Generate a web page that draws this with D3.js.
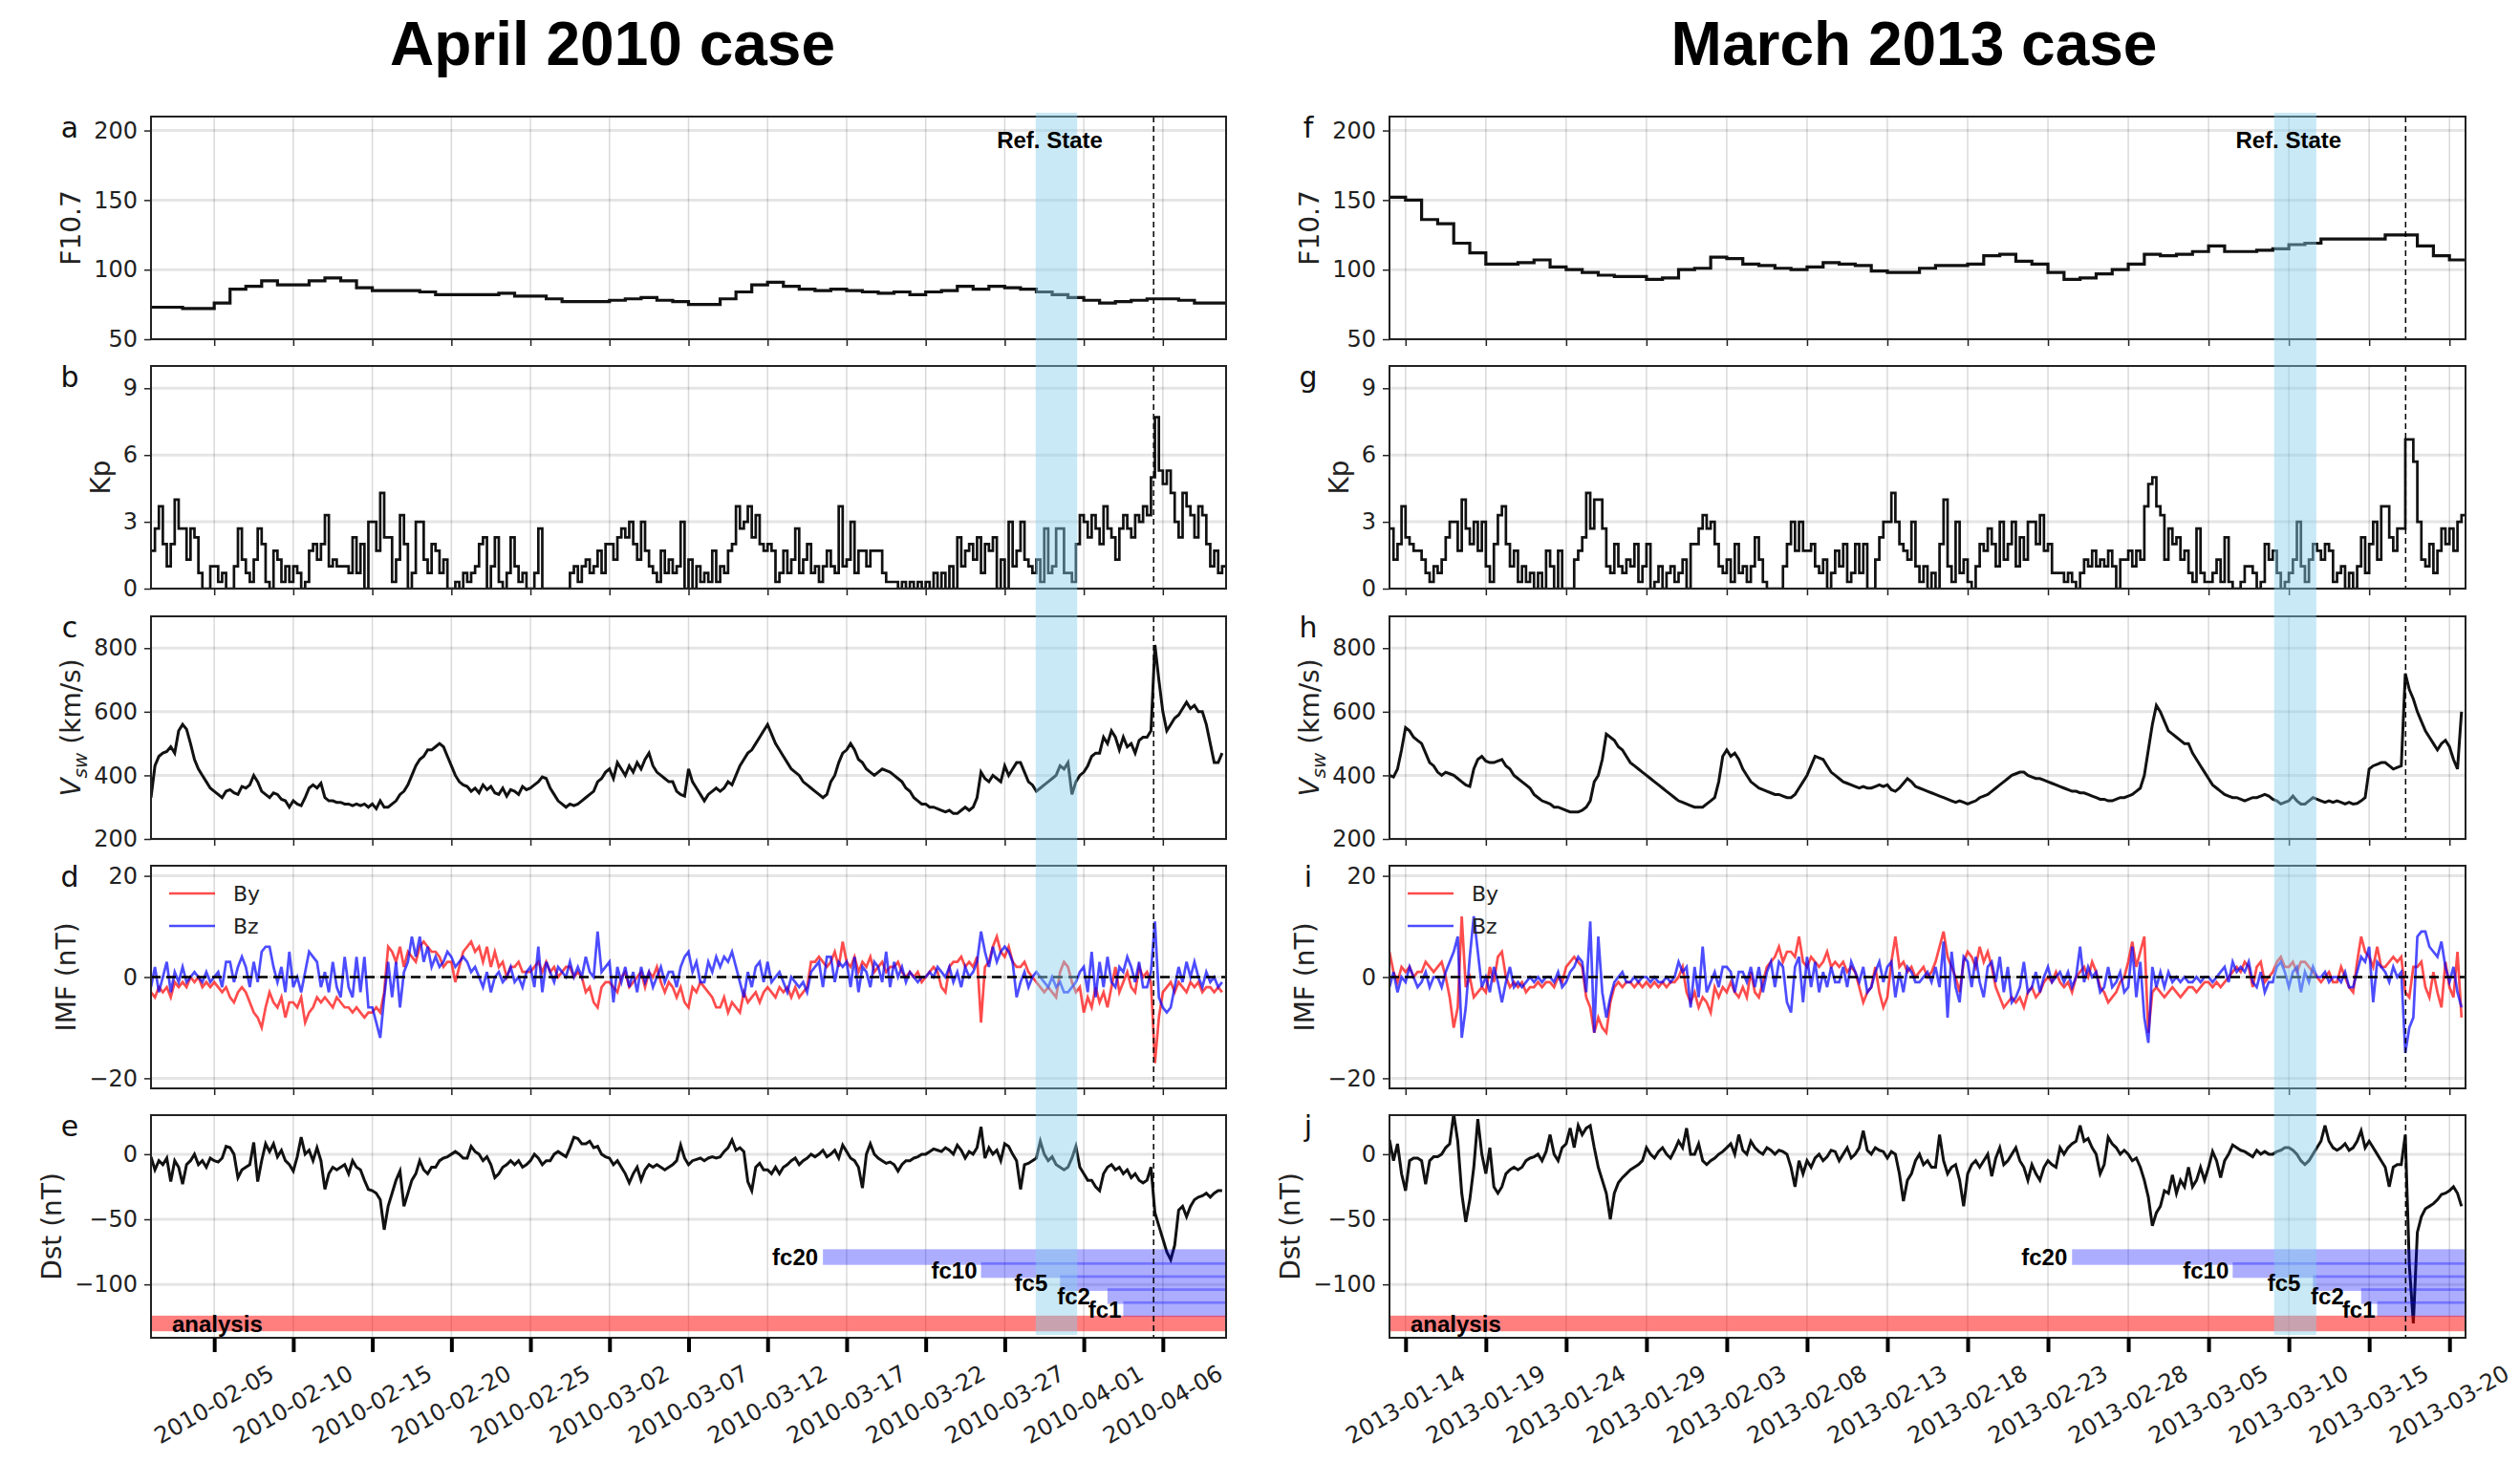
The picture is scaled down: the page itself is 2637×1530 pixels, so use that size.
<!DOCTYPE html>
<html>
<head>
<meta charset="utf-8">
<title>April 2010 / March 2013 cases</title>
<script src="https://cdn.jsdelivr.net/npm/d3@7/dist/d3.min.js"></script>
<style>
  body { margin: 0; background: #fff; }
  svg text { font-family: "DejaVu Sans", sans-serif; }
  svg text.bold { font-family: "Liberation Sans", Arial, sans-serif; font-weight: bold; }
</style>
</head>
<body>
<div id="fig"></div>
<script>
// ---- April 2010 case: daily F10.7, then 6-hourly Kp, Vsw, By, Bz, Dst from 2010-02-01 ----
var aprF107 = [73,73,72,72,76,86,88,92,89,89, 92,94,92,87,85,85,85,84,82,82, 82,82,83,81,81,79,77,77,77,78,
  79,80,78,77,75,75,79,84,89,91, 88,86,85,86,85,84,83,84,82,84, 85,88,86,88,87,86,84,82,80,78, 76,77,78,79,79,78,76,76];

var aprKp = [
  1.7,2.7,3.7,2.0, 1.0,2.0,4.0,2.7, 2.7,1.3,2.7,2.3, 0.7,0,0,1.0, 1.0,0.3,0.7,0, 0,1.0,2.7,1.3, 0.7,0.3,1.3,2.7, 2.0,0.3,0,1.7, 1.3,0.3,1.0,0.3, 1.0,0.7,0,0.3,
  1.7,2.0,1.3,2.0, 3.3,1.0,1.3,1.0, 1.0,1.0,0.7,2.3, 0.7,2.0,0,3.0, 3.0,1.7,4.3,2.3, 2.3,0.3,1.3,3.3, 2.0,0,0.7,3.0, 3.0,1.3,0.7,2.0, 1.7,0.7,1.3,0, 0,0.3,0,0.7,
  0.3,0.7,1.0,2.0, 2.3,0,1.0,2.3, 0.3,0,0.7,2.3, 1.0,0.3,0.7,0, 0,0.7,2.7,0, 0,0,0,0, 0,0,0.7,1.0, 0.3,1.0,1.3,0.7, 1.0,1.7,0.7,2.0, 2.0,1.3,2.3,2.7,
  2.3,3.0,2.0,1.3, 3.0,1.7,1.0,0.7, 0.3,1.7,0.7,1.3, 0.7,1.0,3.0,0, 1.3,0,1.0,0.3, 0.7,0.3,1.7,0.3, 1.0,0.7,1.7,2.0, 3.7,2.7,3.0,3.7, 2.3,3.3,2.0,1.7, 2.0,1.7,0.3,0.7,
  1.7,0.7,1.3,2.7, 0.7,1.3,2.0,0.7, 1.0,0.3,1.0,1.7, 1.0,0.7,3.7,1.0, 1.3,3.0,0.7,1.7, 1.7,1.0,1.7,1.7, 1.7,0.7,0.3,0.3, 0.3,0,0.3,0, 0.3,0,0.3,0, 0.3,0,0.7,0,
  0.7,0,1.0,0, 2.3,1.0,1.7,2.0, 1.3,2.3,0.7,2.0, 1.7,2.3,0,1.3, 0,3.0,1.0,1.7, 3.0,1.3,1.0,0.7, 1.3,0.3,2.7,0.7, 1.0,2.7,2.7,0.7, 0.7,0.3,2.0,3.3, 3.0,2.3,3.3,2.7,
  2.0,3.7,2.7,2.3, 1.3,2.7,3.3,2.7, 2.3,3.3,3.0,3.7, 3.3,5.0,7.7,5.3, 4.7,5.3,4.3,3.0, 2.3,4.3,3.7,3.3, 2.3,3.7,3.3,2.0, 1.0,1.7,0.7,1.0];

var aprVsw = [
  330,430,460,470, 475,490,470,540, 560,545,500,450, 420,400,380,360, 350,340,330,350, 355,345,340,365, 360,370,400,380, 350,340,330,345, 340,325,320,300, 320,310,305,330,
  360,370,360,375, 330,320,320,315, 315,310,310,305, 310,305,310,300, 310,295,320,300, 300,310,320,340, 350,370,400,430, 450,460,480,480, 490,500,490,460, 430,400,380,370,
  365,350,360,345, 370,355,365,345, 340,360,335,355, 350,340,365,355, 360,370,380,395, 390,360,340,320, 310,300,310,305, 310,320,330,340, 350,380,390,410, 420,390,440,420,
  400,430,410,440, 420,450,470,430, 410,400,390,380, 380,350,340,335, 420,380,360,340, 320,340,350,360, 350,360,380,370, 400,430,450,470, 480,500,520,540, 560,530,500,480,
  460,440,420,410, 400,380,370,360, 350,340,330,340, 380,400,440,470, 480,500,480,450, 440,420,410,400, 410,420,415,410, 400,390,380,360, 350,330,320,310, 310,300,300,295,
  290,285,290,280, 280,290,300,290, 300,330,410,390, 380,400,390,380, 430,400,420,440, 440,410,380,370, 350,360,370,380, 390,400,430,420, 440,340,380,400, 410,430,460,470,
  470,520,500,540, 520,480,520,490, 500,470,510,520, 520,540,810,700, 600,540,560,580, 590,610,630,610, 620,600,600,560, 500,440,440,470];

var aprBy = [
  -3,-4,-2,-3, -2,-4,-1,-2, -1,-2,0,-1, 0,-2,-1,-2, -1,-2,-3,-2, -4,-5,-3,-2, -3,-5,-7,-8, -10,-6,-3,-5, -6,-4,-8,-5, -5,-6,-4,-9,
  -7,-6,-4,-5, -4,-5,-6,-4, -5,-6,-6,-7, -6,-7,-8,-7, -7,-6,-7,-3, 6,5,3,6, 2,5,4,3, 6,7,6,5, 5,4,2,3, 3,-1,2,5,
  6,7,5,6, 3,6,2,5, 2,3,0,2, 2,3,1,1, 1,2,3,1, 3,1,2,0, 1,2,2,0, 1,0,-3,-2, -5,-6,-2,-1, -1,-2,-3,0,
  1,-2,-1,0, 1,-2,1,0, 2,-1,-3,-1, -2,-4,-2,-5, -6,-2,-3,-1, -2,-3,-4,-6, -6,-4,-7,-5, -6,-7,-3,-5, -4,-3,-5,-3, -2,-3,-4,-2,
  -3,-2,-4,-2, -4,-3,-2,3, 3,4,3,2, 3,5,2,7, 3,2,4,1, 3,2,4,1, 2,3,1,2, 2,3,1,0, 1,0,1,-1, 0,1,2,1,
  -2,-3,2,3, 3,4,2,3, 2,4,-9,2, 3,6,8,5, 4,6,3,2, 2,3,1,0, -1,-2,-3,-2, -3,-4,1,3, 2,-1,-3,-2, -7,-4,-6,-2,
  -5,-3,-6,-2, 2,-3,-1,1, -2,-3,2,0, 1,-1,-17,-8, -3,-2,-1,-3, -1,-2,-3,-1, -2,-1,-3,-2, -2,-3,-2,-3];

var aprBz = [
  -2,2,-3,0, 3,-3,1,-1, 2,-1,0,1, 0,-1,1,-1, 0,1,-2,3, 3,-1,2,4, 2,-2,3,-1, 5,6,6,2, -1,2,-3,5, -2,0,-3,1,
  5,4,3,-2, 1,-3,3,-2, -4,4,-2,-4, 4,-3,4,-6, -6,-9,-12,-4, 3,-4,3,-6, 1,3,8,4, 8,3,6,2, 4,2,3,5, 4,2,3,4,
  3,1,2,0, -2,1,-3,0, 1,-1,0,2, -1,0,-2,1, 2,-2,6,-3, 3,1,-1,2, 1,0,3,0, 2,0,4,1, 0,9,1,2, 3,-5,2,-1,
  2,-2,1,-3, 2,-1,1,-2, 0,2,-1,1, 1,-2,2,4, 5,1,3,-1, -1,3,1,4, 2,4,3,5, 2,-1,-4,1, -2,2,3,-1, 3,-1,0,1,
  -1,-3,0,-1, -2,-1,-3,1, 2,3,-2,4, 4,-1,3,2, 3,-2,4,-3, 2,1,-2,3, 2,-1,5,-2, 3,0,2,-1, 1,0,-1,0, 0,1,0,2,
  1,0,2,-1, 1,-2,2,0, 1,3,9,5, 2,6,3,5, 6,5,3,-4, -1,1,-2,0, 1,0,-1,-2, 0,-2,-1,-3, -3,-2,-1,1, 2,-3,5,-4,
  3,-2,4,-1, -2,2,1,4, 2,-1,3,-2, -2,1,11,-4, -6,-7,-6,-2, 2,-1,3,0, 3,0,-2,1, -1,0,-2,-1];

var aprDst = [
  -2,-12,-5,-8, -3,-21,-5,-10, -23,-8,-5,0, -8,-5,-10,-3, -5,-6,-3,6, 5,0,-18,-12, -10,-8,9,-21, -5,8,2,8, -2,3,-5,-8, -13,-2,13,0,
  3,-5,5,-5, -27,-15,-10,-12, -10,-8,-15,-5, -10,-12,-20,-27, -28,-30,-35,-58, -40,-30,-20,-13, -40,-30,-20,-15, -5,-12,-15,-10, -10,-5,-3,-2, 0,2,0,-3,
  -3,6,2,0, -5,-2,-8,-18, -15,-10,-8,-5, -8,-5,-10,-8, -5,0,-3,-8, -5,-5,0,2, 0,-2,5,13, 12,8,8,10, 5,6,0,-2, -3,-8,-5,-10,
  -15,-22,-15,-10, -20,-12,-8,-10, -8,-10,-12,-10, -8,-5,7,-3, -8,-5,-4,-3, -5,-3,-2,-3, -2,2,5,11, 3,5,2,-21, -28,-10,-7,-12, -12,-15,-10,-15,
  -10,-8,-5,-3, -8,-5,-3,0, -2,0,3,-2, 0,3,-3,7, 2,-3,-5,-10, -26,0,8,0, -3,-5,-7,-6, -8,-13,-8,-5, -5,-3,-2,0, 0,2,4,3,
  2,5,3,0, 7,3,-3,2, 0,5,21,-3, 5,0,3,-5, 8,6,0,-5, -27,-8,-7,-5, -3,10,0,-5, -2,-8,-10,-12, -10,-3,6,-10, -15,-20,-20,-25,
  -28,-15,-10,-8, -12,-10,-15,-12, -18,-15,-20,-22, -20,-10,-45,-55, -65,-75,-81,-70, -43,-40,-48,-40, -35,-33,-32,-30, -33,-30,-28,-28];

// ---- March 2013 case: same layout, from 2013-01-13 ----
var marF107 = [152,150,136,133,119,112,104,104,105,107, 102,100,98,96,95,95,93,94,100,101, 109,108,104,103,101,100,102,105,104,103,
  99,98,98,101,103,103,104,110,111,106, 104,98,93,94,97,100,104,111,110,111, 113,117,113,113,114,115,118,119,122,122, 122,122,125,125,117,110,107];

var marKp = [
  2.7,1.3,2.0,3.7, 2.3,2.0,1.7,1.7, 1.3,0.7,0.3,1.0, 0.7,1.3,2.3,3.0, 3.0,1.7,4.0,2.7, 2.0,3.0,1.7,3.0, 1.0,0.3,2.0,3.3, 3.7,2.0,1.0,1.7, 0.3,1.0,0.3,0.7, 0,0.7,0,1.7,
  1.0,0,1.7,0, 0,0,1.3,1.7, 2.3,4.3,2.7,4.0, 4.0,2.7,1.0,0.7, 2.0,1.0,0.7,1.3, 1.0,2.0,0.3,1.0, 2.0,0,0.3,1.0, 0,0.7,1.0,0.3, 0.7,1.3,0,2.0, 2.0,2.7,3.3,2.7,
  3.0,2.0,1.0,0.7, 1.3,0.3,2.0,0.7, 1.0,0.3,1.0,2.3, 1.3,0.3,0,0, 0,0,1.0,2.0, 3.0,1.7,3.0,1.7, 1.7,2.0,1.0,0.7, 1.3,0,0.7,1.7, 1.0,2.0,0.3,0.7, 2.0,0.7,2.0,0,
  0,1.3,2.3,3.0, 3.0,4.3,3.0,2.0, 1.7,1.3,3.0,1.0, 0.3,1.0,0,0.7, 0,2.0,4.0,1.0, 0.3,3.0,0.7,1.3, 0.3,0,1.0,2.0, 1.7,2.7,2.0,1.0, 3.0,1.3,2.0,3.0, 1.0,2.3,1.3,3.0,
  3.0,2.0,3.3,1.7, 2.0,0.7,0.7,0.7, 0.3,0.7,0.3,0, 0.7,1.3,1.0,1.7, 1.0,1.3,1.0,1.7, 1.0,0,1.3,1.3, 1.7,1.0,1.7,1.3, 3.7,4.7,5.0,3.7, 3.3,1.3,2.7,2.0, 2.3,1.3,1.7,0.7,
  0.3,2.7,0.7,0.3, 0.3,0.7,1.3,0.3, 2.3,0.3,0,0, 0.3,1.0,1.0,0.7, 0,0.3,2.0,1.3, 1.7,0.7,0,0.3, 0.7,1.3,3.0,1.0, 0.3,1.3,2.0,1.7, 1.3,2.0,1.7,0.3, 0.7,1.0,0,0.7,
  0,1.0,2.3,0.7, 2.0,3.0,1.3,3.7, 3.7,2.3,1.7,2.7, 2.7,6.7,6.7,5.7, 3.0,1.3,1.0,2.0, 0.7,1.7,2.7,2.0, 2.7,1.7,3.0,3.3];

var marVsw = [
  400,395,420,480, 550,540,520,510, 500,470,440,430, 410,400,410,405, 400,390,380,370, 365,420,450,460, 445,440,440,445, 450,430,420,400, 390,380,370,360, 340,330,320,315,
  310,300,300,295, 290,285,285,285, 290,300,320,380, 400,450,530,520, 510,490,480,460, 440,430,420,410, 400,390,380,370, 360,350,340,330, 320,315,310,305, 300,300,300,310,
  320,330,380,460, 480,460,470,450, 420,400,380,370, 360,355,350,345, 340,340,335,330, 330,340,360,380, 400,430,460,455, 450,430,410,400, 390,380,375,370, 365,360,365,360,
  360,365,370,365, 370,355,350,360, 375,390,380,365, 360,355,350,345, 340,335,330,325, 320,315,320,315, 310,315,320,330, 335,340,350,360, 370,380,390,400, 405,410,410,400,
  395,390,390,385, 380,375,370,365, 360,355,350,350, 345,345,340,335, 330,325,325,320, 320,325,330,330, 335,340,350,360, 400,480,560,620, 600,570,540,530, 520,510,500,500,
  470,450,430,410, 390,370,360,350, 340,335,330,330, 325,320,325,330, 330,335,340,335, 325,320,310,315, 320,335,320,310, 310,320,330,325, 320,315,320,315, 320,315,310,315,
  310,312,320,330, 420,430,435,440, 440,430,420,425, 430,720,670,640, 600,570,540,520, 500,480,500,510, 490,450,420,600];

var marBy = [
  5,1,-1,2, 1,2,0,1, 1,3,2,1, 2,3,0,-4, -10,-6,12,-2, 0,-4,-3,-2, -3,2,-1,4, 5,0,-2,-1, -2,-1,-3,-2, -2,-1,-2,-1,
  -1,-2,0,-1, 2,3,4,3, 2,-4,-6,-11, -8,-10,-11,-5, -2,-1,-2,-1, -1,-2,-1,-2, -1,-2,-1,-2, -1,-2,-1,-1, 0,2,-3,-5, -3,-6,-4,-5,
  -7,-2,-4,-2, -3,-1,-3,-4, -2,-4,1,-3, -4,-1,2,3, 4,6,3,5, 5,4,8,3, 2,4,3,2, 3,5,2,3, 2,3,1,2, 1,-2,-5,-3,
  -2,2,-3,-6, -4,3,8,2, 3,1,2,0, 1,2,0,1, 3,6,9,4, 2,0,-3,3, 5,4,2,6, 3,5,2,-2, -4,-6,-5,-4, -5,-4,-6,-3,
  -2,-4,-3,-1, 0,-1,1,-1, -2,-1,-3,0, 1,2,0,3, 1,-2,-3,-5, -4,-3,-1,0, 3,7,2,5, 8,-11,-3,-2, -3,-4,-3,-2, -3,-4,-3,-2,
  -2,-3,-2,-1, -1,-2,-1,-2, -1,0,1,2, 1,3,2,-2, 2,3,-1,0, 1,3,4,2, 2,3,1,3, 3,2,1,0, -1,0,1,-1, -1,2,0,-2,
  -3,3,8,5, 4,2,6,2, 2,3,4,3, 4,-3,-4,2, 2,3,-2,-4, 1,-3,-6,3, -2,-4,5,-8];

var marBz = [
  -2,1,-3,0, -1,2,0,-2, -1,1,-2,0, 0,-2,1,3, 5,8,-12,-6, 4,12,5,-2, 0,-3,2,-1, -5,-1,2,-2, -1,-2,-1,0, -1,0,-1,0,
  0,-1,1,-2, -1,1,2,4, 3,-3,11,-11, 8,-3,-8,-4, -1,0,1,-1, -1,0,-1,0, 0,-1,0,-1, -1,0,-1,0, 3,1,2,-6, 2,-4,6,-3,
  -1,1,-2,2, 2,1,-3,1, 1,-1,2,-2, 2,-3,1,3, -2,3,2,-5, -7,2,4,-5, 4,-2,3,-3, 1,-2,2,-1, -1,2,-2,3, 1,-1,2,-3,
  -2,1,3,-1, 2,3,-4,1, -3,2,1,-1, -1,0,1,-1, 2,-2,7,-8, 5,-2,-5,4, 3,-2,4,-1, -4,2,3,-1, 4,-3,2,-5, -4,-2,3,-3,
  -2,1,-3,0, 2,-1,0,1, -1,1,-2,0, 6,-1,2,0, 1,-3,-2,2, -2,-1,1,-3, -2,6,-4,3, -8,-13,2,-2, 1,-2,1,-1, 0,-1,0,-1,
  -1,0,-1,0, 0,-1,0,1, 2,-1,3,1, 2,1,3,-1, -2,1,-3,-1, -1,2,3,1, -2,1,2,-3, 1,-1,2,0, 0,1,-1,0, 0,-1,1,-2,
  -2,1,4,3, 6,-5,3,2, 1,-1,2,0, 1,-15,-10,-8, 8,9,9,6, 5,4,7,2, -1,2,-3,-6];

var marDst = [
  11,-5,8,-15, -28,-5,-3,-3, -5,-23,-5,-2, -2,0,5,8, 31,10,-30,-52, -35,-10,27,0, -15,5,-25,-30, -25,-15,-12,-10, -12,-10,-5,-3, -2,0,-5,2,
  15,0,-5,5, 8,20,5,22, 15,20,22,5, -10,-20,-30,-50, -30,-22,-18,-15, -12,-10,-8,-5, 5,0,-3,2, 5,0,-3,3, 10,5,20,0, 0,8,-5,-8,
  -5,-3,0,2, 5,8,0,15, 3,0,10,5, 2,0,5,3, 0,3,2,0, -10,-25,-5,-15, -5,-10,-3,0, -5,-2,3,2, -5,0,5,-3, 0,5,18,3,
  0,5,3,2, -3,2,0,-15, -36,-20,-15,-5, 0,-8,-5,-10, -10,15,-5,-15, -10,-8,-20,-40, -15,-8,-5,-10, -5,0,-17,-3, 5,-8,-5,0, 5,-5,-10,-20,
  -8,-15,-20,-10, -5,-8,-10,5, 0,5,8,10, 22,10,12,5, 0,-15,-8,13, 8,5,0,3, 0,-5,-3,-10, -20,-33,-55,-45, -40,-28,-30,-16, -30,-20,-25,-10,
  -25,-20,-10,-20, -10,2,-5,-18, -5,0,7,5, 3,2,0,-2, 3,0,2,0, 0,2,3,5, 5,3,0,-5, -8,-5,0,5, 10,22,10,5, 3,5,8,3,
  5,10,18,5, 10,5,0,-5, -10,-25,-10,-8, -8,15,-85,-130, -60,-48,-42,-40, -38,-35,-31,-30, -28,-25,-30,-40];

// tick dates, events
var aprTicks = ['2010-02-05','2010-02-10','2010-02-15','2010-02-20','2010-02-25','2010-03-02','2010-03-07',
  '2010-03-12','2010-03-17','2010-03-22','2010-03-27','2010-04-01','2010-04-06'];
var marTicks = ['2013-01-14','2013-01-19','2013-01-24','2013-01-29','2013-02-03','2013-02-08','2013-02-13',
  '2013-02-18','2013-02-23','2013-02-28','2013-03-05','2013-03-10','2013-03-15','2013-03-20'];
var aprStorm = '2010-04-05T10:00', marStorm = '2013-03-17T06:30';
var aprRef = ['2010-03-28T23:00', '2010-03-31T14:00'];
var marRef = ['2013-03-09T02:00', '2013-03-11T17:00'];
var fcNames = ['fc20', 'fc10', 'fc5', 'fc2', 'fc1'];
var aprFc = ['2010-03-15T12:00', '2010-03-25T12:00', '2010-03-30T12:00', '2010-04-02T12:00', '2010-04-03T12:00'];
var marFc = ['2013-02-24T12:00', '2013-03-06T12:00', '2013-03-11T12:00', '2013-03-14T12:00', '2013-03-15T12:00'];
var legendNames = ['By', 'Bz'];

// ---- drawing ----
var W = 2637, H = 1530;
var tops = [122, 383, 645, 906, 1167], ph = 233;
var fcGap = [5, 4, 13, 18, 2];   // label gap left of each forecast bar (px)

function parseT(s) { return new Date(s.length == 10 ? s + 'T00:00:00Z' : s + ':00Z'); }

function toSeries(vals, start, hours, stepEnd) {
  var t0 = parseT(start).getTime();
  var out = vals.map(function(v, i) { return {t: new Date(t0 + i * hours * 3600e3), v: v}; });
  if (stepEnd) out.push({t: new Date(t0 + vals.length * hours * 3600e3), v: vals[vals.length - 1]});
  return out;
}

var svg = d3.select('#fig').append('svg').attr('width', W).attr('height', H);
var gBase = svg.append('g'), gBand = svg.append('g'), gTop = svg.append('g');
var fmt = d3.utcFormat('%Y-%m-%d');

function drawCase(c) {
  var x = d3.scaleUtc().domain([parseT(c.start), parseT(c.end)]).range([c.x0, c.x1]);
  var tickDates = c.ticks.map(parseT);
  var w = c.x1 - c.x0;
  var xs = x(parseT(c.storm));

  gTop.append('text').attr('class', 'bold')
    .attr('x', c.titleX).attr('y', 68).attr('text-anchor', 'middle')
    .style('font-size', '64px').text(c.title);

  var specs = [
    {dom: [50, 210], ticks: [50, 100, 150, 200], label: 'F10.7'},
    {dom: [0, 10], ticks: [0, 3, 6, 9], label: 'Kp'},
    {dom: [200, 900], ticks: [200, 400, 600, 800], label: null},
    {dom: [-22, 22], ticks: [-20, 0, 20], label: 'IMF (nT)'},
    {dom: [-141, 30], ticks: [-100, -50, 0], label: 'Dst (nT)'}
  ];

  specs.forEach(function(s, i) {
    var top = tops[i];
    var y = d3.scaleLinear().domain(s.dom).range([top + ph, top]);
    var g = gBase.append('g');
    var cid = 'clip-' + c.id + i;
    svg.append('clipPath').attr('id', cid)
      .append('rect').attr('x', c.x0).attr('y', top).attr('width', w).attr('height', ph);

    // grid
    g.selectAll('line.vg').data(tickDates).enter().append('line').attr('class', 'vg')
      .attr('x1', function(d) { return x(d); }).attr('x2', function(d) { return x(d); })
      .attr('y1', top).attr('y2', top + ph)
      .attr('stroke', '#000').attr('stroke-opacity', 0.15).attr('stroke-width', 1.5);
    g.selectAll('line.hg').data(s.ticks).enter().append('line').attr('class', 'hg')
      .attr('x1', c.x0).attr('x2', c.x1)
      .attr('y1', function(d) { return y(d); }).attr('y2', function(d) { return y(d); })
      .attr('stroke', '#000').attr('stroke-opacity', 0.1).attr('stroke-width', 3);

    var plot = g.append('g').attr('clip-path', 'url(#' + cid + ')');
    var line = d3.line().x(function(d) { return x(d.t); }).y(function(d) { return y(d.v); });
    var step = d3.line().curve(d3.curveStepAfter).x(function(d) { return x(d.t); }).y(function(d) { return y(d.v); });

    if (i == 0) {
      plot.append('path').datum(toSeries(c.f107, c.start, 24, true)).attr('d', step)
        .attr('fill', 'none').attr('stroke', '#111').attr('stroke-width', 3.2);
    } else if (i == 1) {
      plot.append('path').datum(toSeries(c.kp, c.start, 6, true)).attr('d', step)
        .attr('fill', 'none').attr('stroke', '#111').attr('stroke-width', 2.7);
    } else if (i == 2) {
      plot.append('path').datum(toSeries(c.vsw, c.start, 6)).attr('d', line)
        .attr('fill', 'none').attr('stroke', '#111').attr('stroke-width', 3);
    } else if (i == 3) {
      plot.append('path').datum(toSeries(c.by, c.start, 6)).attr('d', line)
        .attr('fill', 'none').attr('stroke', 'red').attr('stroke-opacity', 0.7).attr('stroke-width', 2.7);
      plot.append('path').datum(toSeries(c.bz, c.start, 6)).attr('d', line)
        .attr('fill', 'none').attr('stroke', 'blue').attr('stroke-opacity', 0.7).attr('stroke-width', 2.7);
      plot.append('line').attr('x1', c.x0).attr('x2', c.x1).attr('y1', y(0)).attr('y2', y(0))
        .attr('stroke', '#000').attr('stroke-width', 2.5).attr('stroke-dasharray', '10,6');
      // legend
      legendNames.forEach(function(nm, k) {
        var ly = top + 29 + k * 34;
        g.append('line').attr('x1', c.x0 + 19).attr('x2', c.x0 + 67).attr('y1', ly).attr('y2', ly)
          .attr('stroke', k == 0 ? 'red' : 'blue').attr('stroke-opacity', 0.7).attr('stroke-width', 2.5);
        g.append('text').attr('x', c.x0 + 86).attr('y', ly).attr('dominant-baseline', 'central')
          .style('font-size', '22px').attr('fill', '#222').text(nm);
      });
    } else {
      plot.append('path').datum(toSeries(c.dst, c.start, 6)).attr('d', line)
        .attr('fill', 'none').attr('stroke', '#111').attr('stroke-width', 3);
      // forecast windows
      c.fc.forEach(function(t, k) {
        var fx = x(parseT(t)), yt = -73 - 10 * k;
        plot.append('rect').attr('x', fx).attr('y', y(yt)).attr('width', c.x1 - fx)
          .attr('height', y(yt - 12) - y(yt)).attr('fill', 'blue').attr('fill-opacity', 0.32);
        gTop.append('text').attr('class', 'bold').attr('x', fx - fcGap[k]).attr('y', y(yt - 6))
          .attr('text-anchor', 'end').attr('dominant-baseline', 'central')
          .style('font-size', '24px').text(fcNames[k]);
      });
      plot.append('rect').attr('x', c.x0).attr('y', y(-124)).attr('width', w)
        .attr('height', y(-136) - y(-124)).attr('fill', 'red').attr('fill-opacity', 0.5);
      gTop.append('text').attr('class', 'bold').attr('x', c.x0 + 22).attr('y', y(-130))
        .attr('dominant-baseline', 'central').style('font-size', '24px').text('analysis');
    }

    // storm onset
    g.append('line').attr('x1', xs).attr('x2', xs).attr('y1', top).attr('y2', top + ph)
      .attr('stroke', '#000').attr('stroke-width', 1.5).attr('stroke-dasharray', '6,4');

    g.append('rect').attr('x', c.x0).attr('y', top).attr('width', w).attr('height', ph)
      .attr('fill', 'none').attr('stroke', '#222').attr('stroke-width', 2);

    // axes
    var ya = g.append('g').attr('transform', 'translate(' + c.x0 + ',0)')
      .call(d3.axisLeft(y).tickValues(s.ticks).tickSize(7).tickPadding(7));
    ya.select('.domain').remove();
    ya.selectAll('line').attr('stroke', '#222').attr('stroke-width', 1.5);
    ya.selectAll('text').style('font-size', '24px').attr('fill', '#222');

    var last = i == 4;
    var xa = g.append('g').attr('transform', 'translate(0,' + (top + ph) + ')')
      .call(d3.axisBottom(x).tickValues(tickDates).tickSize(last ? 15 : 7).tickFormat(''));
    xa.select('.domain').remove();
    xa.selectAll('line').attr('stroke', last ? '#000' : '#222').attr('stroke-width', last ? 4 : 1.5);

    if (last) {
      tickDates.forEach(function(t) {
        g.append('text')
          .attr('transform', 'translate(' + x(t) + ',' + (top + ph + 70) + ') rotate(-30)')
          .attr('text-anchor', 'middle').attr('dominant-baseline', 'central')
          .style('font-size', '24px').attr('fill', '#222').text(fmt(t));
      });
    }

    // y label, placed left of the tick labels
    var bb = ya.node().getBBox();
    var lx = c.x0 + bb.x - 14;
    var lab = g.append('text')
      .attr('transform', 'translate(' + lx + ',' + (top + ph / 2) + ') rotate(-90)')
      .attr('text-anchor', 'middle').style('font-size', '28px').attr('fill', '#222');
    if (s.label) {
      lab.text(s.label);
    } else {
      lab.append('tspan').style('font-style', 'italic').text('V');
      lab.append('tspan').style('font-style', 'italic').style('font-size', '20px').attr('dy', 7).text('sw');
      lab.append('tspan').attr('dy', -7).text(' (km/s)');
    }

    g.append('text').attr('x', c.x0 - 85).attr('y', top + 22).attr('text-anchor', 'middle')
      .style('font-size', '30px').attr('fill', '#111').text(c.letters[i]);
  });

  // reference state band across all panels
  var bx0 = x(parseT(c.ref[0])), bx1 = x(parseT(c.ref[1]));
  gBand.append('rect').attr('x', bx0).attr('y', 118).attr('width', bx1 - bx0).attr('height', 1397 - 118)
    .attr('fill', '#87CEEB').attr('fill-opacity', 0.45);
  gTop.append('text').attr('class', 'bold').attr('x', (bx0 + bx1) / 2 - 7).attr('y', 155)
    .attr('text-anchor', 'middle').style('font-size', '24px').text('Ref. State');
}

drawCase({id: 'apr', title: 'April 2010 case', titleX: 641, x0: 158, x1: 1283,
  start: '2010-02-01', end: '2010-04-10', ticks: aprTicks, storm: aprStorm, ref: aprRef, fc: aprFc,
  f107: aprF107, kp: aprKp, vsw: aprVsw, by: aprBy, bz: aprBz, dst: aprDst, letters: 'abcde'});
drawCase({id: 'mar', title: 'March 2013 case', titleX: 2003, x0: 1454, x1: 2580,
  start: '2013-01-13', end: '2013-03-21', ticks: marTicks, storm: marStorm, ref: marRef, fc: marFc,
  f107: marF107, kp: marKp, vsw: marVsw, by: marBy, bz: marBz, dst: marDst, letters: 'fghij'});
</script>
</body>
</html>
